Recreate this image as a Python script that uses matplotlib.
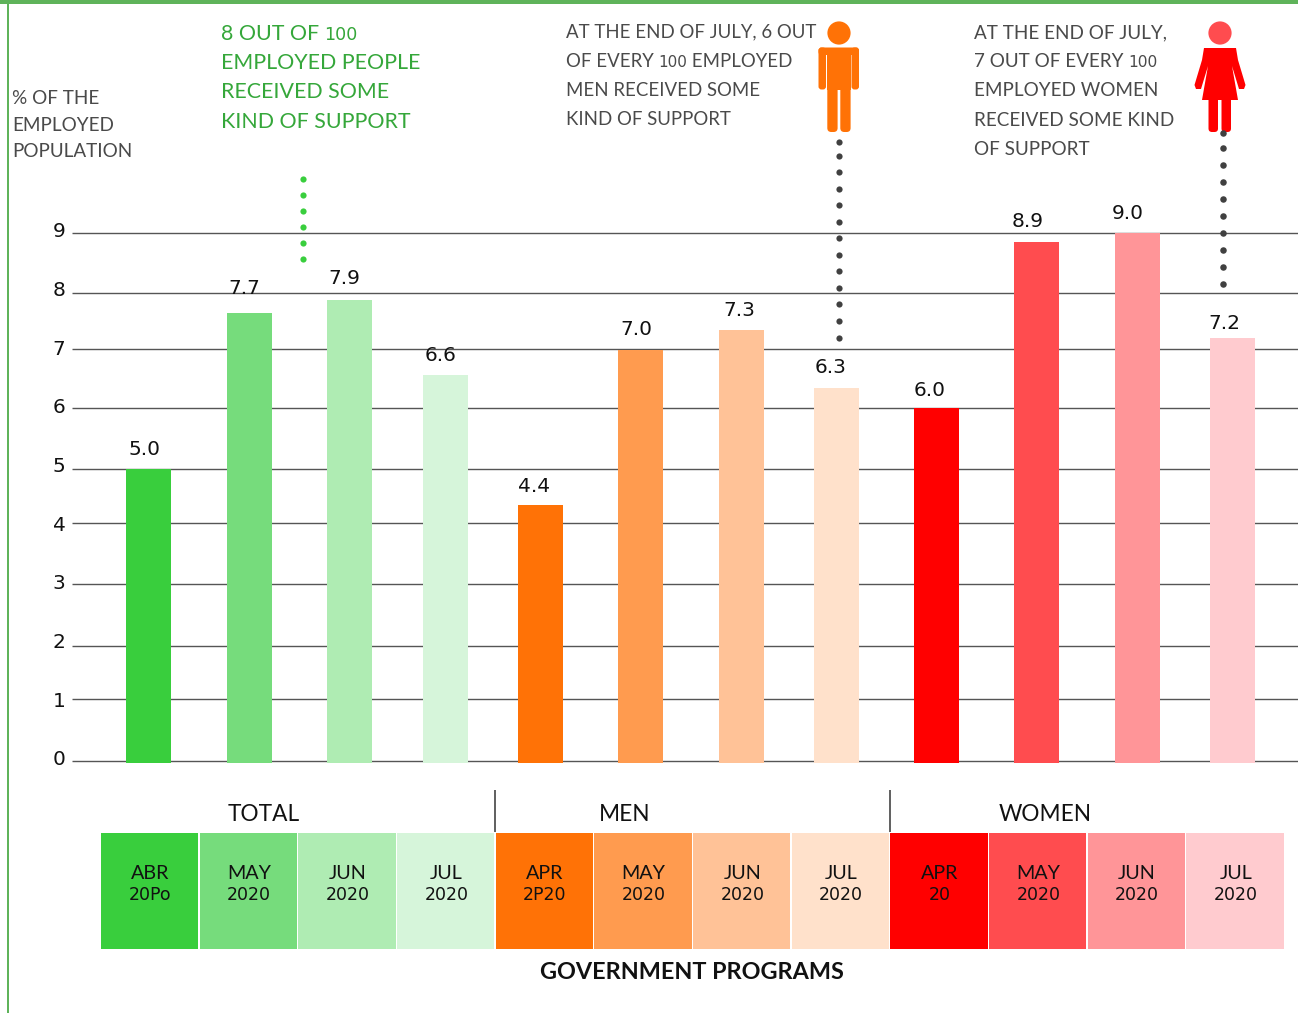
import matplotlib
matplotlib.use("Agg")
import matplotlib.pyplot as plt
from matplotlib.patches import Circle, Polygon, FancyBboxPatch, Rectangle

# ---- data ----
bar_heights = [4.98, 7.63, 7.86, 6.58, 4.36, 7.00, 7.35, 6.36, 6.02, 8.85, 9.00, 7.21]
bar_labels = ["5.0", "7.7", "7.9", "6.6", "4.4", "7.0", "7.3", "6.3", "6.0", "8.9", "9.0", "7.2"]
bar_colors = ["#39CE3D", "#76DC7C", "#AFECB3", "#D6F5DA",
              "#FF7206", "#FF9B4F", "#FFC297", "#FFE1CB",
              "#FF0000", "#FF4C4F", "#FF9598", "#FFCBCF"]
y_ticks = list(range(10))
grid_levels = [0, 1.05, 1.96, 3.01, 4.05, 4.97, 6.02, 7.02, 7.98, 9.0]
month_labels = ["ABR", "MAY", "JUN", "JUL", "APR", "MAY", "JUN", "JUL", "APR", "MAY", "JUN", "JUL"]
year_labels = ["20Po", "2020", "2020", "2020", "2P20", "2020", "2020", "2020", "20", "2020", "2020", "2020"]
groups = ["TOTAL", "MEN", "WOMEN"]

# ---- layout (pixels) ----
W, H = 1298, 1013
bar_x = [148.5, 249.5, 349.5, 445.5, 540.5, 640.5, 741.5, 836.5, 936.5, 1036.5, 1137.5, 1232.5]
bar_w = 45
label_x = [144, 244, 344, 441, 534, 636, 739, 831, 930, 1028, 1128, 1224]
label_base = [455, 294, 284, 361, 492, 335, 316, 373, 396, 227, 219, 329]
y0_px, y9_px = 761.0, 233.0
FONT = "Lato"
NUM = "DejaVu Sans"
GREY = "#4A4A4A"
BLACK = "#111111"
GREEN = "#35A73A"

fig = plt.figure(figsize=(W / 100, H / 100), dpi=100, facecolor="white")

# main value axes; x runs in pixels, y in percent
ax = fig.add_axes([0, 0, 1, 1])
per_unit = (y0_px - y9_px) / 9
ax.set_xlim(0, W)
ax.set_ylim(-(H - y0_px) / per_unit, y0_px / per_unit)
ax.axis("off")
ax.hlines(grid_levels, 72, W, color="#555555", lw=1.0, zorder=1)
foot = 0.03
ax.bar(bar_x, [h + foot for h in bar_heights], width=bar_w, color=bar_colors, bottom=-foot, zorder=2)
for t in y_ticks:
    ax.text(59, t + 0.02, str(t), ha="center", va="center", family=NUM, fontsize=14.5, color=BLACK, zorder=3)

# overlay in pixel coordinates for annotation
ov = fig.add_axes([0, 0, 1, 1], facecolor="none")
ov.set_xlim(0, W)
ov.set_ylim(H, 0)
ov.axis("off")

# frame
ov.add_patch(Rectangle((0, 0), W, 4, color="#5FB35A", lw=0))
ov.add_patch(Rectangle((7, 0), 2, H, color="#5FB35A", lw=0))

# data labels
for x, b, s in zip(label_x, label_base, bar_labels):
    ov.text(x, b, s, ha="center", va="baseline", family=NUM, fontsize=14.5, color=BLACK, zorder=5)

renderer = fig.canvas.get_renderer()

def flow(x, b, s, color, size):
    """Write one line, setting the figure '100' in small low numerals as the source does."""
    pieces = s.split("100")
    for i, part in enumerate(pieces):
        if part:
            t = ov.text(x, b, part, ha="left", va="baseline", family=FONT, fontsize=size, color=color)
            x += t.get_window_extent(renderer).width
        if i < len(pieces) - 1:
            t = ov.text(x, b, "100", ha="left", va="baseline", family="DejaVu Sans", fontsize=size * 0.82, color=color)
            x += t.get_window_extent(renderer).width

def block(x, bases, lines, color, size):
    for b, s in zip(bases, lines):
        flow(x, b, s, color, size)

block(12, [104, 131, 157], ["% OF THE", "EMPLOYED", "POPULATION"], GREY, 13.6)
block(221, [40, 69, 98, 128], ["8 OUT OF 100", "EMPLOYED PEOPLE", "RECEIVED SOME", "KIND OF SUPPORT"], GREEN, 15.4)
block(566, [37, 67, 96, 125], ["AT THE END OF JULY, 6 OUT", "OF EVERY 100 EMPLOYED", "MEN RECEIVED SOME", "KIND OF SUPPORT"], GREY, 13.4)
block(974, [38, 67, 96, 126, 155], ["AT THE END OF JULY,", "7 OUT OF EVERY 100", "EMPLOYED WOMEN", "RECEIVED SOME KIND", "OF SUPPORT"], GREY, 13.6)

# dotted leaders
ov.scatter([303] * 6, [179, 194.5, 211, 227, 243, 259], s=20, color="#39CE3D", lw=0, zorder=6)
ov.scatter([838.5] * 13, [142, 156, 172, 189, 205, 222, 238, 255, 271, 288, 304, 321, 338], s=20, color="#404040", lw=0, zorder=6)
ov.scatter([1222.5] * 10, [133, 148, 165, 182, 199, 216, 233, 250, 267, 284], s=22, color="#404040", lw=0, zorder=6)

def rrect(x, y, w, h, c, r=3):
    ov.add_patch(FancyBboxPatch((x + r, y + r), w - 2 * r, h - 2 * r,
                                boxstyle=f"round,pad={r},rounding_size={r}", color=c, lw=0, zorder=4))

# man icon
OR = "#FF7206"
ov.add_patch(Circle((839, 33), 11.6, color=OR, lw=0, zorder=4))
rrect(818.5, 47.5, 7.5, 42, OR)
rrect(851.5, 47.5, 7.5, 42, OR)
rrect(818.5, 47.5, 40.5, 7.5, OR)
ov.add_patch(Rectangle((827.3, 49), 23.2, 41, color=OR, lw=0, zorder=4))
rrect(827.3, 80, 10.3, 52, OR, r=4)
rrect(840.3, 80, 10.3, 52, OR, r=4)

# woman icon
RD = "#FF0000"
ov.add_patch(Circle((1220, 33), 11.6, color="#FF4C4F", lw=0, zorder=4))
ov.add_patch(Polygon([(1204, 48), (1236, 48), (1238, 60), (1245.5, 85), (1244, 89), (1239, 89),
                      (1232, 66), (1238, 100), (1202, 100), (1208, 66), (1201, 89), (1196, 89),
                      (1194.5, 85), (1202, 60)], closed=True, color=RD, lw=0, zorder=4))
rrect(1208.5, 95, 9.5, 37, RD, r=3.5)
rrect(1221.5, 95, 9.5, 37, RD, r=3.5)

# colour strip
cell_w = (1285 - 101) / 12
for i, c in enumerate(bar_colors):
    x = 101 + i * cell_w
    ov.add_patch(Rectangle((x, 833), cell_w - 1.2, 116, color=c, lw=0))
    cx = x + cell_w / 2
    ov.text(cx, 879, month_labels[i], ha="center", va="baseline", family=FONT, fontsize=14.2, color=BLACK)
    ov.text(cx, 900, year_labels[i], ha="center", va="baseline", family="DejaVu Sans", fontsize=12.5, color=BLACK)

for gx, name in zip([264, 625, 1045], groups):
    ov.text(gx, 821, name, ha="center", va="baseline", family=FONT, fontsize=16.3, color=BLACK)
ov.vlines([495, 890], 790, 832, color="#444444", lw=1.2)
ov.text(692, 979, "GOVERNMENT PROGRAMS", ha="center", va="baseline", family=FONT, fontsize=16.8, fontweight="bold", color=BLACK)

fig.savefig("out.png", dpi=100)
